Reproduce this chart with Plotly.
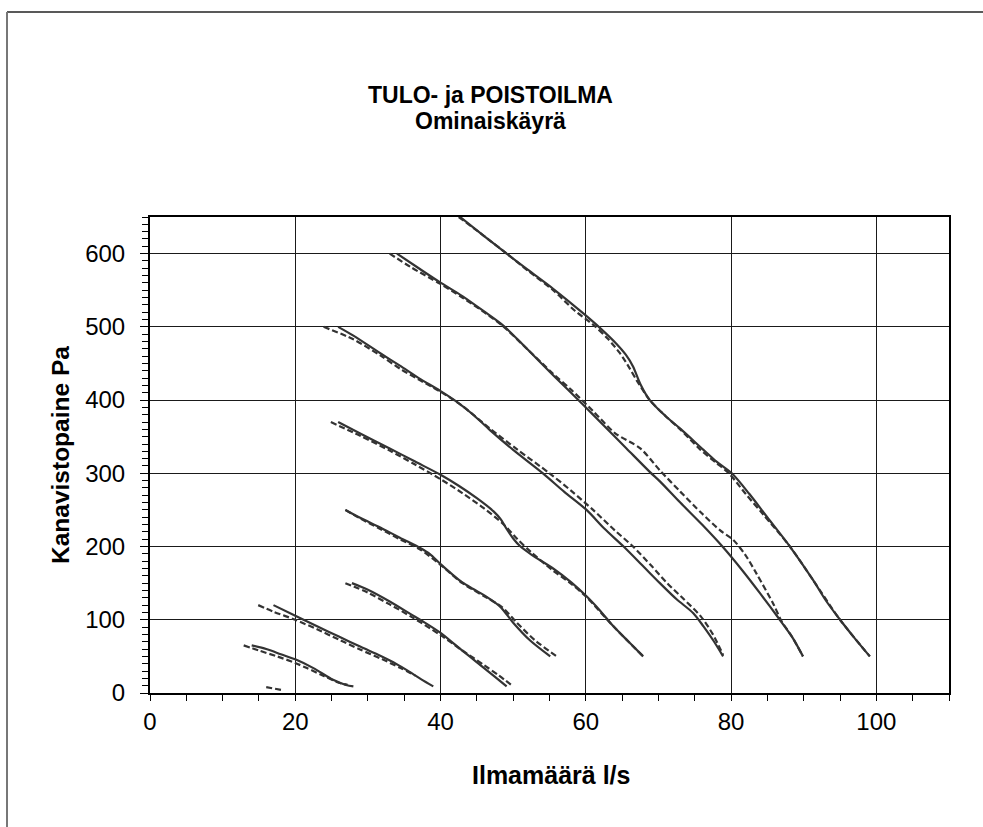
import plotly.graph_objects as go

# ---- data ----
# solid curves (x in l/s, y in Pa)
s1_x = [14.0, 16.0, 18.0, 20.0, 22.5, 25.2, 27.0, 28.0]
s1_y = [65, 60, 53, 46, 34, 18, 11, 9]
s2_x = [17.0, 20.0, 23.0, 26.0, 29.0, 31.7, 33.5, 35.3, 37.3, 39.0]
s2_y = [120, 105.5, 91, 77, 63, 51, 42, 31.5, 19, 9]
s3_x = [27.8, 30.0, 33.0, 36.0, 38.0, 40.0, 42.0, 44.0, 46.0, 47.5, 49.1]
s3_y = [150, 141, 125, 107, 95, 82, 66, 50, 34, 22, 9]
s4_x = [26.9, 29.0, 31.7, 34.4, 37.2, 38.5, 40.0, 41.5, 43.0, 44.5, 46.4, 48.2, 50.0, 52.3, 55.1]
s4_y = [250, 239, 226, 212, 198, 190, 176, 163, 151, 142, 131, 118, 96, 72, 50]
s5_x = [25.9, 29.0, 33.0, 36.5, 40.0, 42.5, 45.0, 47.3, 48.3, 49.1, 50.0, 50.9, 52.5, 55.5, 58.0, 60.1, 62.0, 63.8, 65.9, 67.9]
s5_y = [370, 354, 334, 316, 298, 283, 266, 248, 237, 224, 211, 201, 189, 170, 151, 132, 112, 91, 70, 50]
s6_x = [25.9, 28.0, 31.7, 34.4, 37.0, 39.9, 42.2, 44.5, 46.8, 50.0, 54.1, 57.0, 60.1, 62.5, 65.2, 68.0, 70.2, 72.5, 74.8, 76.2, 77.6, 78.9]
s6_y = [500, 488, 464, 447, 430, 413, 398, 380, 359, 332, 300, 275, 250, 225, 200, 172, 150, 128, 109, 91, 71, 50]
s7_x = [34.0, 37.0, 39.9, 43.0, 46.0, 48.6, 51.9, 55.5, 59.7, 62.5, 65.6, 68.8, 70.2, 73.0, 76.0, 78.9, 81.5, 84.0, 86.7, 88.5, 89.9]
s7_y = [600, 580, 561, 542, 521, 502, 470, 434, 393, 365, 334, 302, 289, 260, 230, 199, 168, 136, 100, 75, 50]
s8_x = [42.7, 46.0, 49.1, 52.0, 55.5, 59.7, 61.9, 64.2, 65.5, 66.5, 67.5, 68.8, 71.0, 73.0, 76.2, 78.0, 80.1, 82.5, 84.9, 88.1, 91.3, 93.0, 95.0, 97.0, 99.1]
s8_y = [650, 624, 600, 578, 552, 518, 499, 477, 462, 446, 422, 400, 378, 361, 332, 316, 300, 272, 241, 200, 154, 127, 100, 75, 50]

# dashed curves
d0_x = [16.0, 18.2]
d0_y = [8, 4]
d1_x = [12.9, 15.0, 17.5, 20.0, 21.6, 24.0, 26.0, 27.2]
d1_y = [65, 58, 50, 41, 34, 23, 14, 11]
d2_x = [14.9, 17.0, 20.0, 23.0, 26.0, 29.0, 32.0, 34.5, 36.5]
d2_y = [120, 111, 100, 87, 73, 59, 46, 34, 24]
d3_x = [26.9, 30.0, 33.0, 36.0, 40.0, 43.0, 46.0, 48.0, 50.0]
d3_y = [150, 137, 121, 104, 79, 58, 38, 24, 9]
d4_x = [26.9, 29.0, 31.7, 34.4, 37.2, 40.0, 43.0, 46.4, 48.5, 50.5, 53.0, 56.0]
d4_y = [250, 238, 224, 210, 196, 175, 150, 130, 117, 96, 72, 50]
d5_x = [24.9, 29.0, 33.0, 36.5, 40.0, 43.0, 46.0, 48.5, 50.5, 52.5, 55.5, 58.0, 60.1, 63.8, 67.9]
d5_y = [370, 351, 331, 312, 292, 273, 252, 232, 211, 192, 167, 149, 131, 91, 50]
d6_x = [23.9, 28.0, 31.7, 34.4, 37.0, 39.9, 43.0, 46.8, 50.5, 55.0, 58.0, 61.0, 64.0, 66.5, 69.0, 71.2, 73.5, 75.8, 77.5, 78.9]
d6_y = [500, 483, 461, 443, 428, 412, 392, 361, 333, 300, 276, 250, 222, 200, 174, 150, 128, 105, 80, 52]
d7_x = [33.0, 36.0, 39.9, 43.0, 46.0, 48.6, 52.0, 55.5, 58.0, 61.0, 64.0, 67.5, 70.2, 73.0, 76.0, 78.5, 80.3, 82.0, 83.5, 85.8, 86.9, 88.5, 89.9]
d7_y = [600, 581, 559, 540, 520, 501, 469, 436, 414, 385, 355, 334, 304, 275, 245, 222, 209, 188, 163, 122, 99, 75, 50]
d8_x = [42.5, 46.0, 49.1, 52.0, 55.5, 58.5, 61.0, 63.0, 64.7, 66.0, 67.0, 68.8, 71.0, 73.0, 75.8, 78.0, 79.7, 82.0, 84.5, 88.1, 91.3, 95.0, 99.1]
d8_y = [650, 624, 600, 577, 550, 522, 503, 484, 464, 444, 427, 400, 378, 360, 332, 314, 300, 272, 243, 200, 154, 100, 50]

solid_curves = [(s1_x, s1_y), (s2_x, s2_y), (s3_x, s3_y), (s4_x, s4_y),
                (s5_x, s5_y), (s6_x, s6_y), (s7_x, s7_y), (s8_x, s8_y)]
dashed_curves = [(d0_x, d0_y), (d1_x, d1_y), (d2_x, d2_y), (d3_x, d3_y), (d4_x, d4_y),
                 (d5_x, d5_y), (d6_x, d6_y), (d7_x, d7_y), (d8_x, d8_y)]

title_line1 = "TULO- ja POISTOILMA"
title_line2 = "Ominaiskäyrä"
x_title = "Ilmamäärä l/s"
y_title = "Kanavistopaine Pa"
x_ticks = [0, 20, 40, 60, 80, 100]
y_ticks = [0, 100, 200, 300, 400, 500, 600]

FONT = "Arial, 'Liberation Sans', sans-serif"
LINE_COLOR = "#333333"

fig = go.Figure()
for xs, ys in dashed_curves:
    fig.add_trace(go.Scatter(x=xs, y=ys, mode="lines",
                             line=dict(color=LINE_COLOR, width=2.2, dash="6px,3px",
                                       shape="spline", smoothing=0.8),
                             showlegend=False, hoverinfo="skip"))
for xs, ys in solid_curves:
    fig.add_trace(go.Scatter(x=xs, y=ys, mode="lines",
                             line=dict(color=LINE_COLOR, width=2.2,
                                       shape="spline", smoothing=0.8),
                             showlegend=False, hoverinfo="skip"))

W, H = 983, 827
L, R, T, B = 150, 34, 217, 134
pw, ph = W - L - R, H - T - B

def px(x):
    return (x - L) / pw

def py(y):
    return (H - B - y) / ph

fig.update_layout(
    width=W, height=H,
    margin=dict(l=L, r=R, t=T, b=B, pad=0),
    paper_bgcolor="white", plot_bgcolor="white",
    font=dict(family=FONT, color="black"),
    showlegend=False,
    xaxis=dict(range=[0, 110], tickvals=x_ticks, showgrid=True, gridcolor="#1a1a1a", gridwidth=1,
               showline=True, linecolor="black", linewidth=2, mirror=True,
               ticks="outside", ticklen=6, tickwidth=1, tickcolor="black",
               tickfont=dict(size=24, family=FONT, color="black"),
               minor=dict(dtick=5, ticks="outside", ticklen=6, tickcolor="black", showgrid=False),
               zeroline=False, fixedrange=True),
    yaxis=dict(range=[0, 650], tickvals=y_ticks, showgrid=True, gridcolor="#1a1a1a", gridwidth=1,
               showline=True, linecolor="black", linewidth=2, mirror=True,
               ticks="outside", ticklen=8, tickwidth=1, tickcolor="black",
               tickfont=dict(size=24, family=FONT, color="black"),
               ticklabelstandoff=10,
               minor=dict(dtick=10, ticks="outside", ticklen=6, tickcolor="black", showgrid=False),
               zeroline=False, fixedrange=True),
    annotations=[
        dict(text="<b>" + title_line1 + "</b>", xref="paper", yref="paper",
             x=px(490), y=py(95), xanchor="center", yanchor="middle", showarrow=False,
             font=dict(size=23, family=FONT, color="black")),
        dict(text="<b>" + title_line2 + "</b>", xref="paper", yref="paper",
             x=px(490), y=py(121), xanchor="center", yanchor="middle", showarrow=False,
             font=dict(size=23, family=FONT, color="black")),
        dict(text="<b>" + x_title + "</b>", xref="paper", yref="paper",
             x=px(551), y=py(775), xanchor="center", yanchor="middle", showarrow=False,
             font=dict(size=25, family=FONT, color="black")),
        dict(text="<b>" + y_title + "</b>", xref="paper", yref="paper",
             x=px(60), y=0.5, xanchor="center", yanchor="middle", showarrow=False,
             textangle=-90, font=dict(size=24.5, family=FONT, color="black")),
    ],
    shapes=[
        dict(type="line", xref="paper", yref="paper", x0=px(7), x1=px(983), y0=py(12), y1=py(12),
             line=dict(color="#222222", width=1.5)),
        dict(type="line", xref="paper", yref="paper", x0=px(7), x1=px(7), y0=py(12), y1=py(827),
             line=dict(color="#777777", width=2)),
    ],
)

fig.write_html("out.html",
               config={"displayModeBar": False},
               post_script="document.body.style.margin='0';document.body.style.overflow='hidden';")
